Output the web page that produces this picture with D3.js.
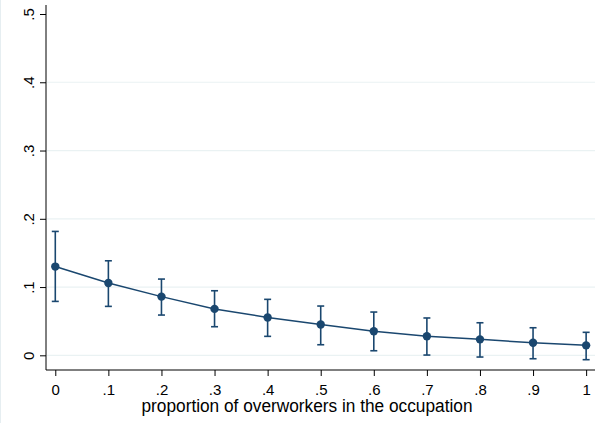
<!DOCTYPE html>
<html>
<head>
<meta charset="utf-8">
<script src="https://cdn.jsdelivr.net/npm/d3@7"></script>
<style>
  html, body { margin: 0; padding: 0; background: #fff; }
  svg { display: block; font-family: "Liberation Sans", Arial, sans-serif; }
</style>
</head>
<body>
<div id="chart"></div>
<script>
// values
const shares = [0, .1, .2, .3, .4, .5, .6, .7, .8, .9, 1];
const estimate = [0.130, 0.106, 0.086, 0.068, 0.0555, 0.0452, 0.0352, 0.028, 0.0234, 0.0184, 0.0146];
const upper = [0.1815, 0.1385, 0.1117, 0.0946, 0.082, 0.0722, 0.0634, 0.0547, 0.0477, 0.0404, 0.0337];
const lower = [0.079, 0.0717, 0.059, 0.0419, 0.0278, 0.0155, 0.0067, 0.0004, -0.0025, -0.005, -0.0064];
const xTicks = [0, .1, .2, .3, .4, .5, .6, .7, .8, .9, 1];
const yTicks = [0, .1, .2, .3, .4, .5];
const xTitle = 'proportion of overworkers in the occupation';

const width = 595, height = 423;
const navy = '#1a476f';
const fmt = function(d) {
  if (d === 0) return '0';
  if (d === 1) return '1';
  return d3.format('.1f')(d).replace(/^0/, '');
};

let svg = d3.select('#chart').append('svg')
  .attr('width', width)
  .attr('height', height);

// faint graph region edge on the left
svg.append('line')
  .attr('x1', 0.5).attr('x2', 0.5)
  .attr('y1', 0).attr('y2', height)
  .style('stroke', '#e6eef1');

let x = d3.scaleLinear().domain([-0.0175, 1.0167]).range([46, 595]);
let y = d3.scaleLinear().domain([-0.0215, 0.5132]).range([370, 5]);

// grid
svg.append('g').selectAll('line')
  .data(yTicks.filter(function(d) { return d < .5; }))
  .enter().append('line')
  .attr('x1', 47).attr('x2', width)
  .attr('y1', function(d) { return y(d); })
  .attr('y2', function(d) { return y(d); })
  .style('stroke', '#eaf2f3')
  .style('stroke-width', 1.2);

// y axis
let yAxis = svg.append('g')
  .attr('transform', 'translate(46,0)')
  .call(d3.axisLeft(y).tickValues(yTicks).tickFormat(fmt).tickSize(6).tickSizeOuter(0));
yAxis.select('.domain').remove();
yAxis.append('line')
  .attr('x1', 0).attr('x2', 0)
  .attr('y1', 5).attr('y2', 370)
  .style('stroke', '#000');
yAxis.selectAll('.tick line').style('stroke', '#000');
yAxis.selectAll('.tick text')
  .attr('x', null).attr('dy', null)
  .attr('transform', 'translate(-12,0) rotate(-90)')
  .attr('text-anchor', 'middle')
  .style('font-size', '15px')
  .style('fill', '#000');

// x axis
let xAxis = svg.append('g')
  .attr('transform', 'translate(0,370)')
  .call(d3.axisBottom(x).tickValues(xTicks).tickFormat(fmt).tickSize(6).tickSizeOuter(0));
xAxis.select('.domain').remove();
xAxis.append('line')
  .attr('x1', 46).attr('x2', width)
  .style('stroke', '#000');
xAxis.selectAll('.tick line').style('stroke', '#000');
xAxis.selectAll('.tick text')
  .attr('y', 24.5).attr('dy', null)
  .style('font-size', '15px')
  .style('fill', '#000');

svg.append('text')
  .attr('x', 307)
  .attr('y', 412)
  .attr('text-anchor', 'middle')
  .attr('textLength', 331)
  .attr('lengthAdjust', 'spacingAndGlyphs')
  .style('font-size', '18px')
  .text(xTitle);

let rows = shares.map(function(s, i) {
  return { s: s, est: estimate[i], hi: upper[i], lo: lower[i] };
});

// error bars
let bars = svg.append('g')
  .style('stroke', navy)
  .style('stroke-width', 1.6)
  .selectAll('g')
  .data(rows)
  .enter().append('g');
bars.append('line')
  .attr('x1', function(d) { return x(d.s); })
  .attr('x2', function(d) { return x(d.s); })
  .attr('y1', function(d) { return y(d.hi); })
  .attr('y2', function(d) { return y(d.lo); });
bars.append('line')
  .attr('x1', function(d) { return x(d.s) - 3.5; })
  .attr('x2', function(d) { return x(d.s) + 3.5; })
  .attr('y1', function(d) { return y(d.hi); })
  .attr('y2', function(d) { return y(d.hi); });
bars.append('line')
  .attr('x1', function(d) { return x(d.s) - 3.5; })
  .attr('x2', function(d) { return x(d.s) + 3.5; })
  .attr('y1', function(d) { return y(d.lo); })
  .attr('y2', function(d) { return y(d.lo); });

// connecting line
svg.append('path')
  .datum(rows)
  .attr('d', d3.line()
    .x(function(d) { return x(d.s); })
    .y(function(d) { return y(d.est); }))
  .style('fill', 'none')
  .style('stroke', navy)
  .style('stroke-width', 1.5);

// markers
svg.append('g').selectAll('circle')
  .data(rows)
  .enter().append('circle')
  .attr('cx', function(d) { return x(d.s); })
  .attr('cy', function(d) { return y(d.est); })
  .attr('r', 4.2)
  .style('fill', navy);
</script>
</body>
</html>
